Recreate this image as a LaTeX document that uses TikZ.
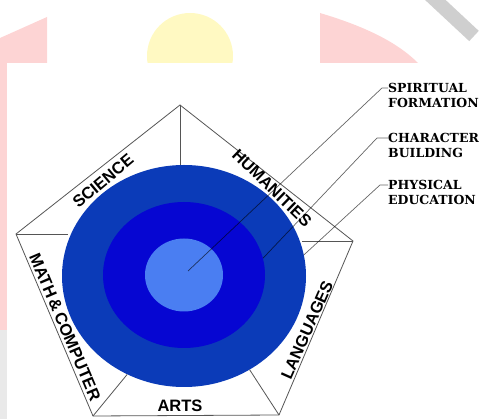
\documentclass[tikz,border=0pt]{standalone}
\usepackage{fontspec}
\setmainfont{Liberation Sans}
\newfontfamily\tagfont{DejaVu Serif}
\usetikzlibrary{shapes.geometric}
\definecolor{outerblue}{HTML}{0B3BB8}
\definecolor{midblue}{HTML}{0606D2}
\definecolor{innerblue}{HTML}{4A7EF2}
\definecolor{edgegray}{HTML}{555555}
\definecolor{pinkmark}{HTML}{FDD4D4}
\definecolor{yellowmark}{HTML}{FFF9C2}
\definecolor{graymark}{HTML}{CFCFCF}

\begin{document}
\begin{tikzpicture}[x=1pt,y=-1pt,
  ring/.style={ellipse,inner sep=0pt,draw=none},
  side/.style={font=\bfseries\fontsize{16.5}{17}\selectfont,inner sep=0pt},
  tag/.style={font=\tagfont\bfseries\fontsize{12.5}{15}\selectfont,
              align=left,anchor=west,inner sep=0pt},
  edge/.style={draw=edgegray,line width=0.8pt},
  leader/.style={draw=black,opacity=0.6,line width=0.7pt}]
  \useasboundingbox (0,0) rectangle (480,419);
  % watermark round the panel
  \fill[pinkmark] (0,38) -- (47,17) -- (47,63) -- (7,63) -- (7,330) -- (0,330) -- cycle;
  \fill[graymark!45] (0,330) rectangle (7,419);
  \fill[yellowmark] (190,56) circle[radius=43];
  \fill[pinkmark] (320,13) .. controls (360,25) and (395,40) .. (418,63) -- (320,63) -- cycle;
  \draw[graymark,line width=14pt] (430,-5) -- (474,36);
  % white panel
  \fill[white] (7,63) rectangle (480,419);
  % pentagon
  \coordinate (ptop) at (180,105);
  \coordinate (pleft) at (16,234);
  \coordinate (pright) at (353,241);
  \coordinate (pbl) at (93,416);
  \coordinate (pbr) at (279,415);
  \draw[edge] (ptop) -- (pright) -- (pbr) -- (pbl) -- (pleft) -- cycle;
  % rings
  \node[ring,fill=outerblue,minimum width=244pt,minimum height=222pt] (outer) at (184,276) {};
  \node[ring,fill=midblue,minimum width=162pt,minimum height=146pt] (middle) at (184,275) {};
  \node[ring,fill=innerblue,minimum width=78pt,minimum height=73pt] (inner) at (184,275) {};
  % spokes
  \draw[edge] (ptop) -- (ptop |- outer.north);
  \draw[edge] (pleft) -- (pleft -| outer.163);
  \draw[edge] (pright) -- (pright -| outer.14);
  \draw[edge] (pbl) -- (outer.240);
  \draw[edge] (pbr) -- (outer.305);
  % subjects on the sides
  \node[side,rotate=40] (science) at (103,181) {SCIENCE};
  \node[side,rotate=-44] (humanities) at (272,188) {HUMANITIES};
  \node[side,rotate=-67] (mathcomp) at (65,327) {MATH\,\&\,COMPUTER};
  \node[side,rotate=66] (languages) at (307,330) {LANGUAGES};
  \node[side] (arts) at (180,406) {ARTS};
  % formation tags
  \node[tag] (spiritual) at (388,95) {SPIRITUAL\\FORMATION};
  \node[tag] (character) at (388,145) {CHARACTER\\BUILDING};
  \node[tag] (physical) at (388,192) {PHYSICAL\\EDUCATION};
  \coordinate (spiritualfoot) at (188,271);
  \coordinate (spiritualknee) at (382,88);
  \coordinate (characterknee) at (377,138);
  \coordinate (physicalknee) at (380,185);
  \draw[leader] (spiritualfoot) -- (spiritualknee) -- (spiritual.west |- spiritualknee);
  \draw[leader] (middle.12) -- (characterknee) -- (character.west |- characterknee);
  \draw[leader] (outer.10) -- (physicalknee) -- (physical.west |- physicalknee);
\end{tikzpicture}
\end{document}
